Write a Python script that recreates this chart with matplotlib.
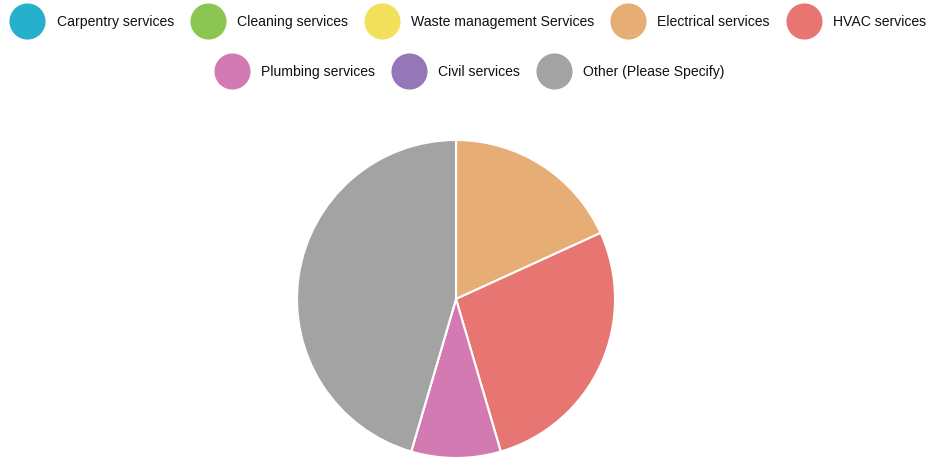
import matplotlib.pyplot as plt
from matplotlib.lines import Line2D

services = ['Carpentry services', 'Cleaning services', 'Waste management Services',
            'Electrical services', 'HVAC services', 'Plumbing services',
            'Civil services', 'Other (Please Specify)']
responses = [0, 0, 0, 2, 3, 1, 0, 5]
colors = ['#27b0cb', '#8bc653', '#f3e15b', '#e6ae75', '#e77673',
          '#d47ab2', '#9477b6', '#a2a3a2']

plt.rcParams['font.family'] = ['Liberation Sans', 'DejaVu Sans']

W, H = 929, 457
fig = plt.figure(figsize=(W / 100, H / 100), dpi=100)

# pie centred at (456, 299) px with radius 159 px
cx, cy, r = 456, H - 299, 159
ax = fig.add_axes([(cx - r) / W, (cy - r) / H, 2 * r / W, 2 * r / H])
ax.pie(responses, colors=colors, startangle=90, counterclock=False,
       wedgeprops=dict(edgecolor='white', linewidth=1.5))
ax.set_xlim(-1, 1)
ax.set_ylim(-1, 1)
for p in ax.patches:
    p.set_clip_on(False)

def make_handles(idx):
    return [Line2D([], [], linestyle='none', marker='o', markersize=25,
                   markerfacecolor=colors[i], markeredgecolor=colors[i])
            for i in idx]

legend_kw = dict(loc='center', frameon=False, fontsize=10.1, handlelength=1.95,
                 handletextpad=1.1, columnspacing=1.45, labelcolor='#111111')

row1 = [0, 1, 2, 3, 4]
row2 = [5, 6, 7]
fig.legend(make_handles(row1), [services[i] for i in row1], ncol=5,
           bbox_to_anchor=(470 / W, 1 - 22 / H), **legend_kw)
fig.legend(make_handles(row2), [services[i] for i in row2], ncol=3,
           bbox_to_anchor=(471 / W, 1 - 72 / H), **legend_kw)

fig.savefig('out.png', dpi=100)
